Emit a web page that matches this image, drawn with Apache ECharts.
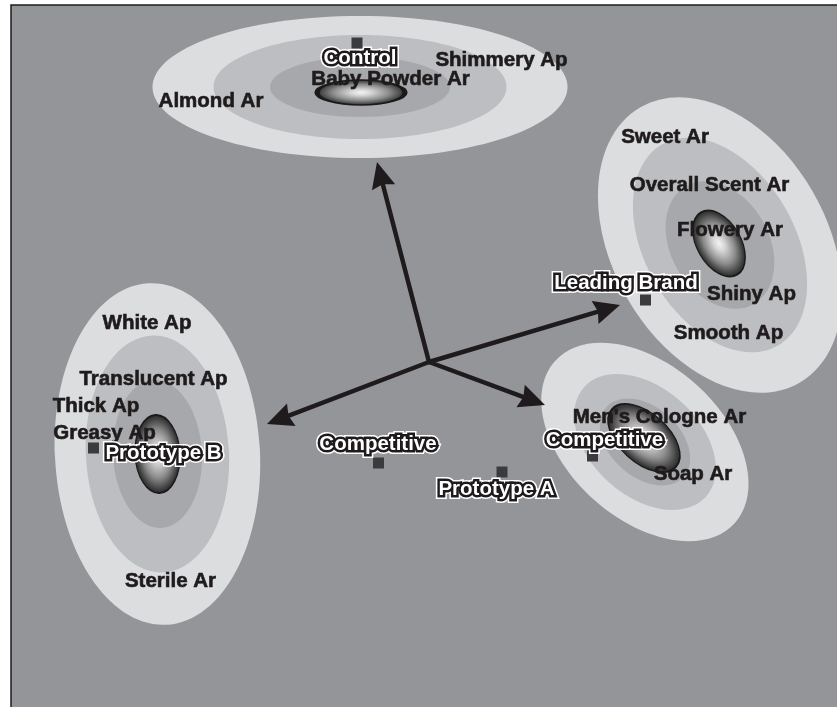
<!DOCTYPE html>
<html>
<head>
<meta charset="utf-8">
<script src="https://cdn.jsdelivr.net/npm/echarts@6/dist/echarts.min.js"></script>
<style>
    html, body { margin: 0; padding: 0; background: #fff; overflow: hidden; }
    /* a bit wider/taller than the window so the frame runs off the right and bottom edges */
    #chart { width: 841px; height: 711px; }
</style>
</head>
<body>
<div id="chart"></div>
<script>
// ======================
// DATA
// ======================

// products (square markers) + where their names are written
const productNames = ['Control', 'Leading Brand', 'Prototype B', 'Competitive', 'Prototype A', 'Competitive'];
const productX = [-0.72, 2.165, -3.355, -0.505, 0.73, 1.635];
const productY = [3.19, 0.62, -0.86, -1.01, -1.10, -0.94];
const productLabelX = [-0.69, 1.97, -2.655, -0.51, 0.675, 1.755];
const productLabelY = [3.05, 0.805, -0.90, -0.81, -1.255, -0.77];

// attributes (Ar = aroma, Ap = appearance)
const attributeNames = [
    'Shimmery Ap', 'Baby Powder Ar', 'Almond Ar',
    'Sweet Ar', 'Overall Scent Ar', 'Flowery Ar', 'Shiny Ap', 'Smooth Ap',
    'White Ap', 'Translucent Ap', 'Thick Ap', 'Greasy Ap', 'Sterile Ar',
    "Men's Cologne Ar", 'Soap Ar'
];
const attributeX = [0.725, -0.385, -2.18, 2.36, 2.805, 3.01, 3.225, 2.995, -2.82, -2.755, -3.33, -3.245, -2.585, 2.305, 2.64];
const attributeY = [3.035, 2.845, 2.62, 2.265, 1.785, 1.335, 0.695, 0.305, 0.405, -0.155, -0.425, -0.695, -2.18, -0.54, -1.11];

// vectors from the common origin
const originX = 0;
const originY = 0;
const vectorX = [-0.52, 1.91, 1.16, -1.62];
const vectorY = [2.00, 0.57, -0.43, -0.62];

// clusters: top, right, left, lower right
const clusterX = [-0.69, 2.91, -2.715, 2.16];
const clusterY = [2.75, 1.17, -0.92, -0.80];
const clusterTilt = [0, -60, 3, -42];
const outerRx = [2.075, 1.59, 1.025, 1.21];
const outerRy = [0.71, 1.07, 1.71, 0.77];
const middleRx = [1.465, 1.16, 0.715, 0.82];
const middleRy = [0.52, 0.75, 1.185, 0.54];
const innerRx = [0.90, 0.68, 0.445, 0.52];
const innerRy = [0.30, 0.49, 0.74, 0.35];
const coreX = [-0.68, 2.90, -2.715, 2.15];
const coreY = [2.695, 1.185, -0.92, -0.76];
const coreRx = [0.44, 0.36, 0.225, 0.43];
const coreRy = [0.125, 0.22, 0.39, 0.245];

// ======================
// STYLE
// ======================

const INK = '#1f1b1c';
const FONT = '"Liberation Sans", Arial, Helvetica, sans-serif';
const RING_COLORS = ['#dcdddf', '#bdbec1', '#a7a8ab'];

// ======================
// RENDERERS
// ======================

function renderCluster(params, api) {
    const c = api.coord([api.value(0), api.value(1)]);
    const rot = api.value(2) * Math.PI / 180;
    const children = [];

    [[3, 4], [5, 6], [7, 8]].forEach(([ix, iy], k) => {
        const r = api.size([api.value(ix), api.value(iy)]);
        children.push({
            type: 'ellipse',
            x: c[0], y: c[1], rotation: rot,
            shape: { cx: 0, cy: 0, rx: r[0], ry: r[1] },
            style: { fill: RING_COLORS[k] }
        });
    });

    // core: a circle stretched by scaleX so the shading follows the ellipse
    const cc = api.coord([api.value(9), api.value(10)]);
    const cr = api.size([api.value(11), api.value(12)]);
    children.push({
        type: 'circle',
        x: cc[0], y: cc[1], rotation: rot,
        scaleX: cr[0] / cr[1], scaleY: 1,
        shape: { cx: 0, cy: 0, r: cr[1] },
        style: {
            fill: new echarts.graphic.RadialGradient(0.5, 0.5, 0.5, [
                { offset: 0, color: '#f4f4f4' },
                { offset: 0.22, color: '#d6d6d6' },
                { offset: 0.6, color: '#8c8c8c' },
                { offset: 0.9, color: '#3c3c3c' },
                { offset: 1, color: '#2a2a2a' }
            ]),
            stroke: '#1a1a1a',
            lineWidth: 1.5,
            strokeNoScale: true
        }
    });

    return { type: 'group', children };
}

function renderArrow(params, api) {
    const p0 = api.coord([api.value(0), api.value(1)]);
    const p1 = api.coord([api.value(2), api.value(3)]);
    const dx = p1[0] - p0[0];
    const dy = p1[1] - p0[1];
    const len = Math.hypot(dx, dy);
    const ux = dx / len, uy = dy / len;
    const nx = -uy, ny = ux;
    const headLen = 26, headHalf = 12, notch = 3;
    const bx = p1[0] - ux * headLen, by = p1[1] - uy * headLen;
    const mx = p1[0] - ux * (headLen - notch), my = p1[1] - uy * (headLen - notch);

    return {
        type: 'group',
        children: [
            {
                type: 'line',
                shape: { x1: p0[0], y1: p0[1], x2: mx + ux, y2: my + uy },
                style: { stroke: INK, lineWidth: 4.5, lineCap: 'round' }
            },
            {
                type: 'polygon',
                shape: {
                    points: [
                        [p1[0], p1[1]],
                        [bx + nx * headHalf, by + ny * headHalf],
                        [mx, my],
                        [bx - nx * headHalf, by - ny * headHalf]
                    ]
                },
                style: { fill: INK }
            }
        ]
    };
}

// ======================
// SERIES DATA
// ======================

const clusterData = clusterX.map((x, i) => [
    x, clusterY[i], clusterTilt[i],
    outerRx[i], outerRy[i], middleRx[i], middleRy[i], innerRx[i], innerRy[i],
    coreX[i], coreY[i], coreRx[i], coreRy[i]
]);
const arrowData = vectorX.map((x, i) => [originX, originY, x, vectorY[i]]);
const productData = productX.map((x, i) => [x, productY[i]]);
const productLabelData = productNames.map((name, i) => ({ name, value: [productLabelX[i], productLabelY[i]] }));
const attributeData = attributeNames.map((name, i) => ({ name, value: [attributeX[i], attributeY[i]] }));

// scatter defaults to opacity 0.8 and labels inherit it, so force 1
function labelSeries(data, z, label) {
    return {
        type: 'scatter',
        data,
        z,
        symbolSize: 1,
        itemStyle: { color: 'rgba(0,0,0,0)', opacity: 1 },
        silent: true,
        label: Object.assign({
            show: true,
            position: 'inside',
            offset: [0, 1.5],
            opacity: 1,
            formatter: '{b}',
            fontFamily: FONT,
            fontWeight: 'bold',
            fontSize: 20.5
        }, label)
    };
}

// ======================
// CHART
// ======================

const chart = echarts.init(document.getElementById('chart'));

chart.setOption({
    backgroundColor: '#ffffff',
    animation: false,
    grid: {
        show: true,
        left: 11, top: 5, right: 0, bottom: 0,
        backgroundColor: '#949599',
        borderColor: INK,
        borderWidth: 1.5
    },
    xAxis: { type: 'value', min: -4.18, max: 4.12, show: false },
    yAxis: { type: 'value', min: -3.49, max: 3.57, show: false },
    series: [
        { type: 'custom', renderItem: renderCluster, data: clusterData, z: 1, silent: true },
        { type: 'custom', renderItem: renderArrow, data: arrowData, z: 2, silent: true },
        {
            type: 'scatter', data: productData, z: 3, silent: true,
            symbol: 'rect', symbolSize: 11,
            itemStyle: { color: '#3b3b3d', opacity: 1 }
        },
        labelSeries(attributeData, 4, { color: INK, textBorderColor: INK, textBorderWidth: 0.6 }),
        // product names: white letters, dark outline, thin white halo
        labelSeries(productLabelData, 5, { color: '#ffffff', textBorderColor: '#ffffff', textBorderWidth: 8 }),
        labelSeries(productLabelData, 6, { color: INK, textBorderColor: INK, textBorderWidth: 5 }),
        labelSeries(productLabelData, 7, { color: '#ffffff', textBorderWidth: 0 })
    ]
});
</script>
</body>
</html>
